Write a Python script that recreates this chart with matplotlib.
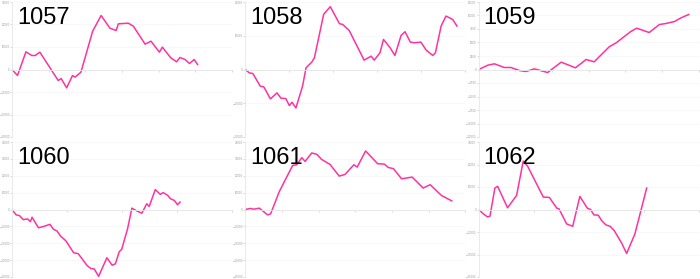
import matplotlib
matplotlib.use("Agg")
import matplotlib.pyplot as plt

# Account ids shown as panel titles
accounts = ["1057", "1058", "1059", "1060", "1061", "1062"]

# Cumulative P&L curves (trade number, running total)
x_1057 = [0, 1.5, 3.8, 5.4, 6.3, 7.6, 12.6, 13.4, 14.9, 16.5, 17.2, 18.8, 22, 24.3, 26.7,
          28.4, 29, 31.7, 33.1, 36.3, 37.9, 40.2, 41, 43.3, 44.9, 45.8, 47.2, 48.4, 49.7, 50.6]
y_1057 = [0, -2670, 7850, 6220, 6220, 7700, -4890, -4000, -8150, -2670, -3400, -1190, 17040, 24000, 18370,
          17330, 20300, 20590, 19260, 11260, 12590, 7700, 9930, 5190, 3410, 5330, 4440, 2670, 4440, 2220]

x_1058 = [0, 0.9, 1.7, 3.4, 4.2, 5.7, 7.2, 8.1, 9.2, 10, 10.6, 11.5, 13, 13.8, 15.1, 15.7, 17.8,
          19.3, 21.4, 22.1, 23.6, 27, 28.6, 29.3, 30.6, 31.4, 32.9, 34, 35.4, 36.3, 37.5, 38.4,
          39.9, 41.1, 42.6, 43.2, 44.5, 45.6, 47.1, 48.1]
y_1058 = [0, -1000, -1190, -4950, -5150, -8710, -6930, -8510, -8610, -10690, -9700, -11390, -4950,
          500, 2180, 3470, 16340, 18610, 13560, 13370, 11580, 2770, 3960, 2770, 4950, 8910, 6440,
          4160, 10100, 11190, 8120, 7920, 8120, 5740, 4160, 4950, 12870, 15840, 14850, 12870]

x_1059 = [0, 2.5, 4.3, 7, 8.8, 11.1, 12.9, 15.2, 18.8, 22.5, 26.4, 29.3, 31.5, 35.6, 37.5, 41.5,
          43.1, 46.5, 49.3, 51.1, 53.4, 55.2, 57.3]
y_1059 = [0, 800, 1050, 370, 370, -190, -370, 120, -560, 1360, 310, 1850, 1420, 4200, 4940, 7040,
          7650, 6850, 8330, 8520, 8890, 9570, 10190]

x_1060 = [0, 1.5, 2.7, 4.1, 5.7, 6.7, 7.3, 9.6, 11.2, 13.8, 15, 16.4, 17.6, 19.6, 22.4, 24.1, 27.3,
          28.7, 29.9, 31.5, 34.5, 36.4, 37.6, 39, 39.9, 42, 43.6, 45.1, 47.2, 49, 49.9, 52.1, 53.9,
          55, 56.6, 57.6, 59, 60.2, 61.1]
y_1060 = [0, -3200, -3600, -6000, -5600, -7200, -4600, -10800, -10200, -8800, -11600, -12800,
          -15600, -18600, -25600, -26200, -33200, -35000, -35200, -39600, -28600, -33000, -32200,
          -25000, -23600, -11600, 800, -600, -2200, 3400, 1800, 11800, 9000, 10000, 8400, 6400,
          5400, 2800, 4400]

x_1061 = [0, 1.3, 2.4, 3.8, 6.1, 6.9, 9.2, 10.8, 12.9, 14, 15.4, 16.3, 18.1, 19.5, 20.8, 23.1, 25.6,
          27.2, 29.6, 30.5, 32.8, 36.1, 37.9, 39, 40.4, 42.6, 45.5, 48.5, 50.4, 53.5, 56.3]
y_1061 = [0, 600, 200, 800, -3200, -2600, 10300, 17200, 26100, 26500, 30700, 28500, 33500, 32700,
          29700, 26700, 19800, 20800, 26500, 25100, 34700, 27100, 26900, 24900, 24200, 18200,
          19200, 12700, 14700, 8300, 5100]

x_1062 = [0, 1.7, 3.2, 4.1, 5.9, 6.9, 10.5, 13.8, 16.2, 17.8, 23.5, 25.7, 28.4, 29.2, 32, 34.2,
          36.8, 39.5, 40.7, 41.9, 43.5, 44.7, 46.3, 47.8, 49.3, 52, 53.8, 56.8, 61.1]
y_1062 = [0, -1940, -3280, -2990, 9550, 10300, 750, 6270, 21490, 19250, 5520, 5370, 600, 300,
          -6420, -7460, 5820, 600, 0, -2390, -2540, -4930, -6870, -7460, -9400, -14930, -19550,
          -10900, 9550]

xs = [x_1057, x_1058, x_1059, x_1060, x_1061, x_1062]
ys = [y_1057, y_1058, y_1059, y_1060, y_1061, y_1062]

# axis scales per panel: (y limit, y step, x max, x step)
y_lims = [30000, 20000, 12500, 40000, 40000, 30000]
y_steps = [10000, 10000, 2500, 10000, 10000, 10000]
x_maxes = [60, 50, 60, 80, 60, 80]
x_steps = [10, 10, 10, 20, 10, 20]

W, H = 700, 279
fig = plt.figure(figsize=(7.0, 2.79), dpi=100)
col_w = 700 / 3

for i, name in enumerate(accounts):
    r, c = divmod(i, 3)
    left = c * col_w + 12
    top = 2 + r * 140
    ax = fig.add_axes([left / W, 1 - (top + 135) / H, 220 / W, 135 / H])
    ax.plot(xs[i], ys[i], color="#ff33a0", lw=1.1, solid_joinstyle="round")
    lim = y_lims[i]
    ax.set_ylim(-lim, lim)
    ax.set_xlim(0, x_maxes[i])
    ax.set_yticks(range(-lim, lim + 1, y_steps[i]))
    ax.set_xticks(range(0, x_maxes[i] + 1, x_steps[i]))
    ax.set_xticklabels([])
    ax.yaxis.grid(True, color="#f5f5f5", lw=0.5)
    ax.set_axisbelow(True)
    for s in ["top", "right"]:
        ax.spines[s].set_visible(False)
    ax.spines["bottom"].set_position(("data", 0))
    ax.spines["bottom"].set_color("#e6e6e6")
    ax.spines["left"].set_color("#e6e6e6")
    ax.spines["bottom"].set_linewidth(0.6)
    ax.spines["left"].set_linewidth(0.6)
    ax.tick_params(axis="both", length=1.2, width=0.5, color="#cccccc",
                   labelsize=1.9, labelcolor="#999999", pad=0.5)
    # panel title placed in pixels
    fig.text((left + 5) / W, (H - top - 22) / H, name, fontsize=17,
             family=["Liberation Sans", "DejaVu Sans"], color="black",
             va="baseline", ha="left")

fig.savefig("out.png", dpi=100)
